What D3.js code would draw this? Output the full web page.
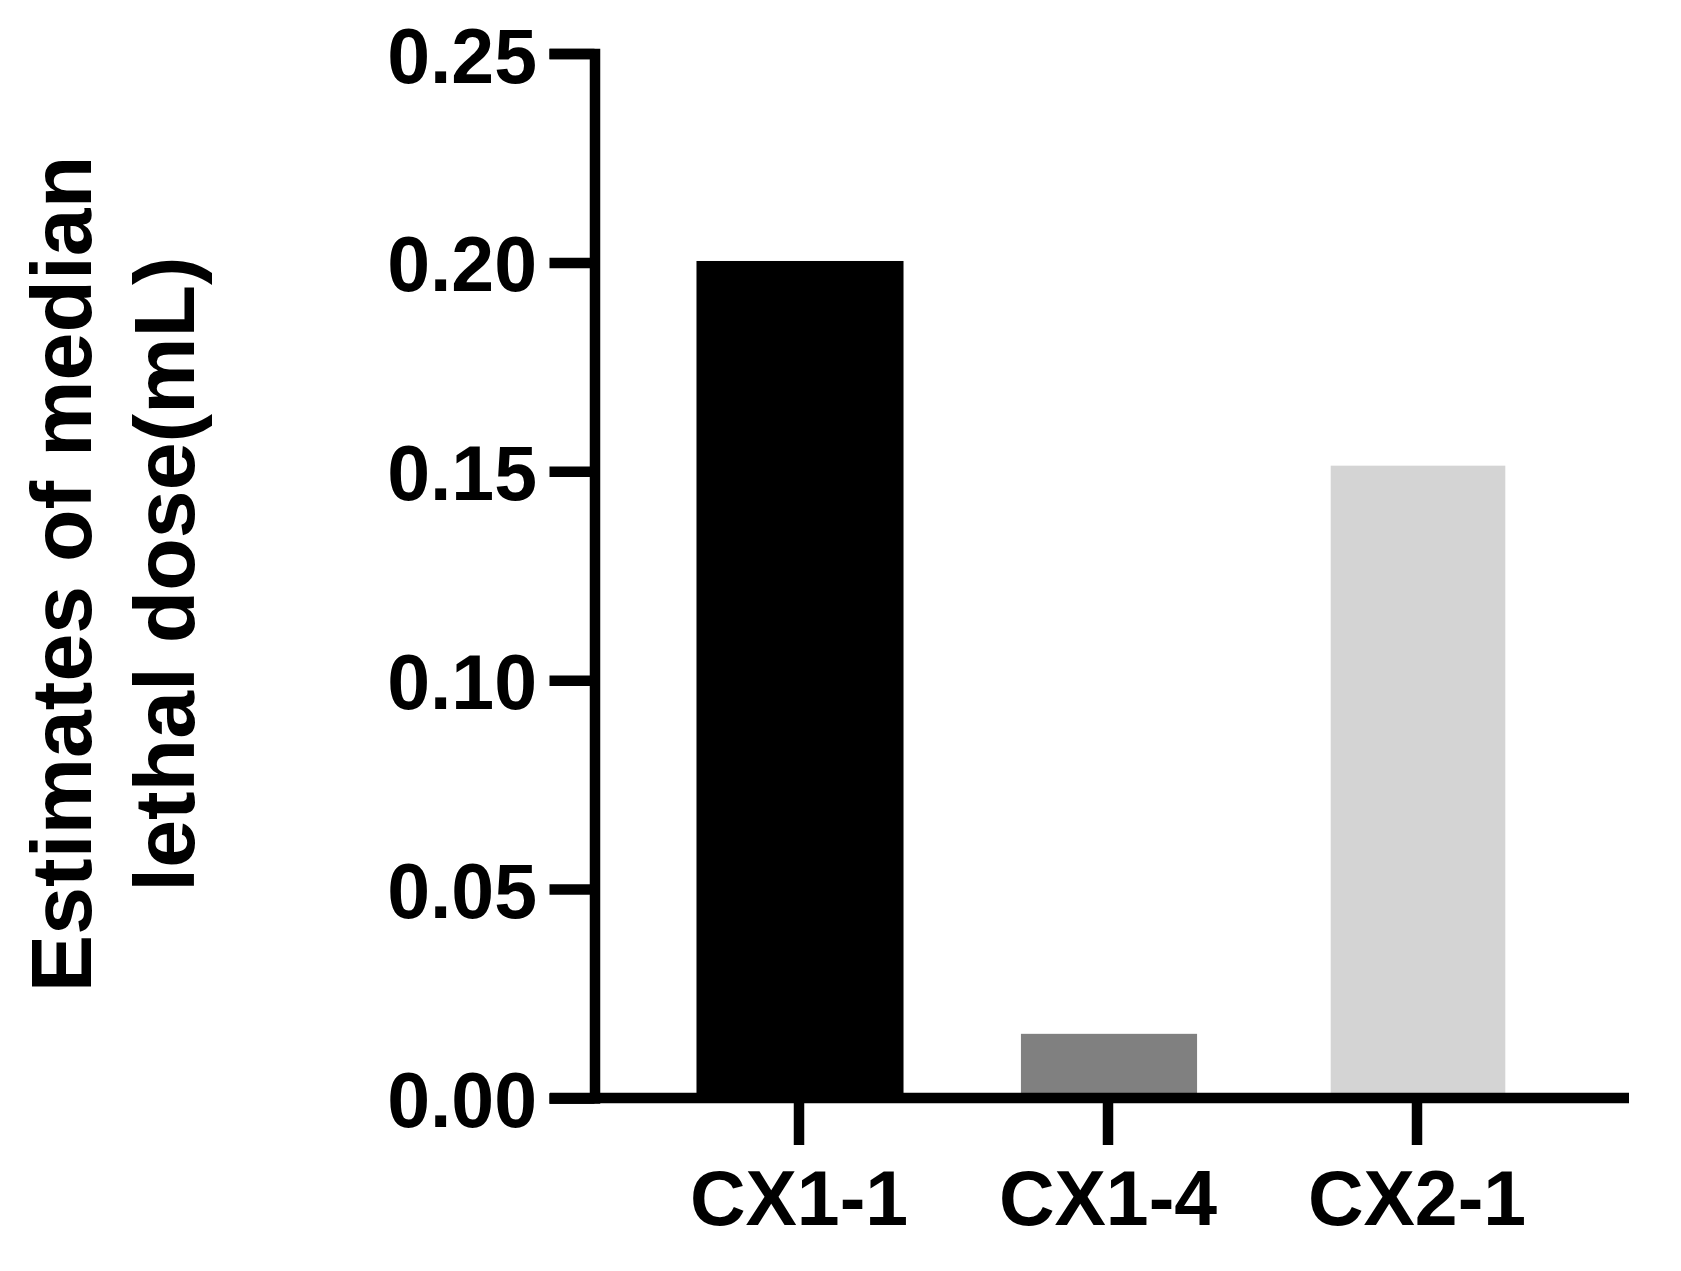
<!DOCTYPE html>
<html>
<head>
<meta charset="utf-8">
<script src="https://cdn.jsdelivr.net/npm/d3@7"></script>
<style>
  html, body { margin: 0; padding: 0; background: #fff; }
  svg { display: block; }
  text { font-family: "Liberation Sans", Arial, sans-serif; font-weight: bold; fill: #000; }
</style>
</head>
<body>
<script>
const categories = ["CX1-1", "CX1-4", "CX2-1"];
const values = [0.200, 0.015, 0.151];
const yTicks = [0.00, 0.05, 0.10, 0.15, 0.20, 0.25];
const yTickLabels = ["0.00", "0.05", "0.10", "0.15", "0.20", "0.25"];
const yTitleLines = ["Estimates of median", "lethal dose(mL)"];

const W = 1681, H = 1271;
const colors = ["#000000", "#808080", "#d4d4d4"];
const widthFrac = [0.67, 0.57, 0.565];
const SW = 10.5;

const svg = d3.select("body").append("svg").attr("width", W).attr("height", H);

const axisX = 594.5, axisY = 1098;
const y = d3.scaleLinear().domain([0, 0.25]).range([axisY, 53.6]);
const x = d3.scaleBand().domain(categories).range([644.5, 1571.5]).padding(0);

// bars
svg.append("g").selectAll("rect")
  .data(categories.map((c, i) => ({c, v: values[i], i})))
  .join("rect")
  .attr("x", d => x(d.c) + x.step() / 2 - x.step() * widthFrac[d.i] / 2 + 1)
  .attr("width", d => x.step() * widthFrac[d.i])
  .attr("y", d => y(d.v) - 1.5)
  .attr("height", d => y(0) - y(d.v) + 1.5)
  .attr("fill", d => colors[d.i]);

// y axis
const gy = svg.append("g").attr("transform", `translate(${axisX},0)`)
  .call(d3.axisLeft(y).tickValues(yTicks).tickFormat((d, i) => yTickLabels[i])
    .tickSize(45).tickSizeOuter(45).tickPadding(12.5));
gy.selectAll("path, line").attr("stroke", "#000").attr("stroke-width", SW).attr("stroke-linejoin", "miter");
gy.select(".domain").attr("fill", "none");
gy.selectAll("text").attr("font-size", 77).attr("dy", "0.37em")
  .style("font-family", "'Liberation Sans', Arial, sans-serif").style("font-weight", "bold");

// x axis
const gx = svg.append("g").attr("transform", `translate(0,${axisY})`)
  .call(d3.axisBottom(x).tickSize(47).tickPadding(25));
gx.select(".domain").remove();
gx.selectAll("line").attr("stroke", "#000").attr("stroke-width", SW);
gx.selectAll("text").attr("font-size", 77)
  .style("font-family", "'Liberation Sans', Arial, sans-serif").style("font-weight", "bold");
gx.append("line").attr("x1", 550).attr("x2", 1629).attr("y1", 0).attr("y2", 0)
  .attr("stroke", "#000").attr("stroke-width", SW);

// y title
const title = svg.append("text")
  .attr("transform", `translate(0,574) rotate(-90)`)
  .attr("text-anchor", "middle")
  .attr("font-size", 86);
yTitleLines.forEach((t, i) => {
  title.append("tspan").attr("x", 0).attr("y", i === 0 ? 91 : 194).text(t);
});
</script>
</body>
</html>
